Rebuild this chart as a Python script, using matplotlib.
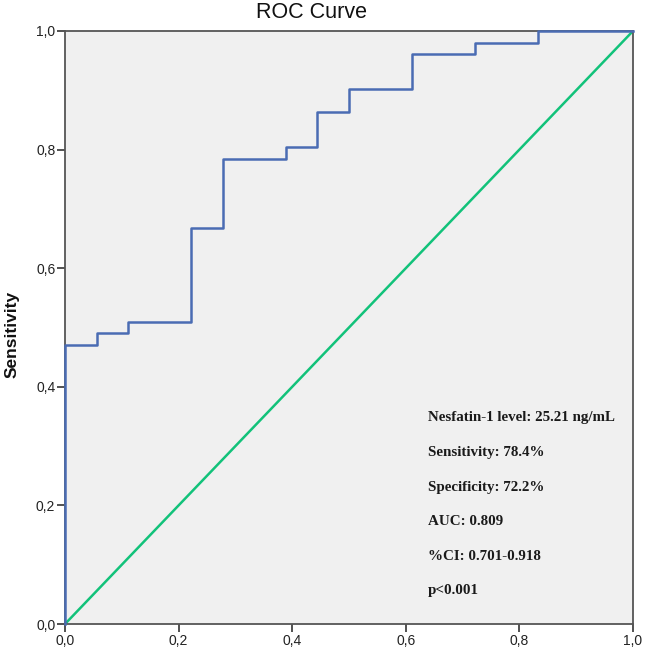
import matplotlib.pyplot as plt
import numpy as np

# ROC steps (1 - specificity, sensitivity)
fpr = [0.0, 0.0, 0.056, 0.056, 0.111, 0.111, 0.222, 0.222, 0.278, 0.278,
       0.389, 0.389, 0.444, 0.444, 0.5, 0.5, 0.611, 0.611, 0.722, 0.722,
       0.833, 0.833, 1.0]
tpr = [0.0, 0.471, 0.471, 0.490, 0.490, 0.510, 0.510, 0.667, 0.667, 0.784,
       0.784, 0.804, 0.804, 0.863, 0.863, 0.902, 0.902, 0.961, 0.961, 0.980,
       0.980, 1.0, 1.0]
ref_line = [0.0, 1.0]

tick_vals = [0.0, 0.2, 0.4, 0.6, 0.8, 1.0]
tick_labels = ['0,0', '0,2', '0,4', '0,6', '0,8', '1,0']

stats_lines = ['Nesfatin-1 level: 25.21 ng/mL',
               'Sensitivity: 78.4%',
               'Specificity: 72.2%',
               'AUC: 0.809',
               '%CI: 0.701-0.918',
               'p<0.001']

W, H = 646, 655
fig = plt.figure(figsize=(W / 100, H / 100), dpi=100)
ax = fig.add_axes([65 / W, 1 - 624 / H, (633 - 65) / W, (624 - 31) / H])
ax.set_facecolor('#f0f0f0')

ax.plot(ref_line, ref_line, color='#12c27a', linewidth=1.8, zorder=2)
ax.plot(fpr, tpr, color='#4a6cb3', linewidth=1.8, zorder=3, clip_on=False)

ax.set_xlim(0, 1)
ax.set_ylim(0, 1)
ax.set_xticks(tick_vals)
ax.set_xticklabels(tick_labels)
ax.set_yticks(tick_vals)
ax.set_yticklabels(tick_labels)
ax.tick_params(direction='out', length=5.5, width=1.2, color='#333333',
               labelsize=10, labelcolor='#222222', pad=1.5)
for lbl in ax.get_xticklabels() + ax.get_yticklabels():
    lbl.set_family('Liberation Sans')
for s in ax.spines.values():
    s.set_color('#555555')
    s.set_linewidth(1.3)

for i, line in enumerate(stats_lines):
    fig.text(428 / W, 1 - (418 + i * 34.5) / H, line, family='Liberation Serif',
             fontweight='bold', fontsize=10.8, color='#1a1a1a', va='center')

fig.text(311 / W, 1 - 12 / H, 'ROC Curve', family='Liberation Sans',
         fontsize=15.5, ha='center', va='center', color='#111111')
fig.text(12 / W, 1 - 334 / H, 'Sensitivity', family='Liberation Sans',
         fontweight='bold', fontsize=12.5, rotation=90, ha='center', va='center',
         color='#111111')

fig.savefig('out.png', dpi=100)
